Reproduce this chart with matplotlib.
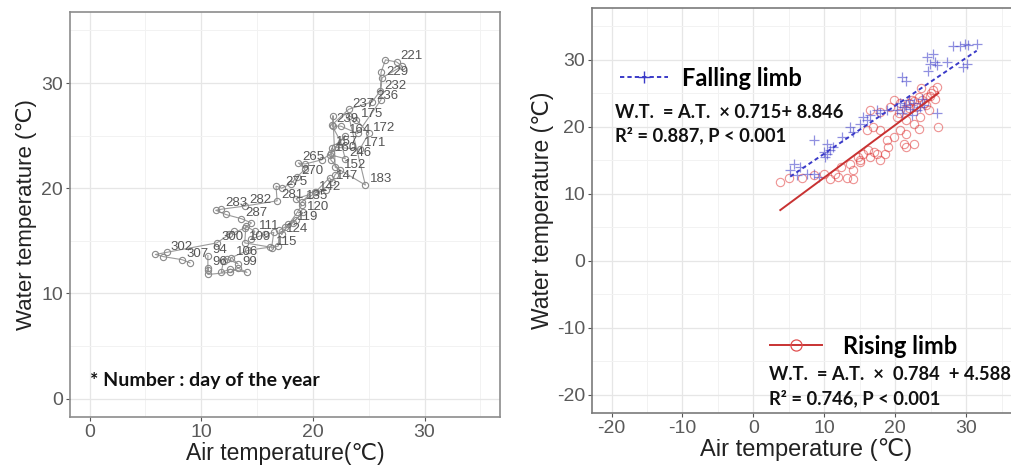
import numpy as np
import matplotlib
matplotlib.use('Agg')
import matplotlib.pyplot as plt
from matplotlib.lines import Line2D

plt.rcParams['font.family'] = ['Liberation Sans', 'DejaVu Sans']
plt.rcParams['axes.unicode_minus'] = False

# 왼쪽: 일별 경로 (day of year, 기온, 수온)
days = [94, 95, 96, 97, 98, 99, 100, 101, 102, 103, 104, 105, 106, 107, 108, 109, 110, 111,
        112, 113, 114, 115, 116, 117, 118, 119, 120, 121, 122, 124, 126, 128, 130, 133, 135,
        138, 140, 142, 145, 147, 150, 152, 155, 157, 160, 164, 167, 171, 172, 175, 179, 183,
        185, 190, 195, 200, 205, 210, 215, 218, 221, 225, 229, 232, 236, 237, 239, 243, 246,
        250, 255, 260, 265, 268, 270, 273, 275, 278, 281, 282, 283, 285, 286, 287, 290, 293,
        296, 298, 300, 302, 304, 305, 307, 309]
air = [10.6, 10.6, 10.6, 10.6, 12.6, 13.3, 14.1, 12.6, 11.8, 12.0, 12.3, 13.3, 12.7, 14.2,
       16.2, 13.9, 14.0, 14.8, 14.5, 15.7, 16.5, 16.3, 16.9, 17.0, 17.5, 18.2, 19.1, 18.5,
       17.8, 17.2, 18.6, 19.0, 18.5, 19.7, 19.0, 20.3, 21.2, 20.2, 21.5, 21.7, 22.0, 22.4,
       21.6, 21.7, 21.6, 22.9, 22.0, 24.2, 25.0, 23.9, 23.2, 24.7, 22.0, 21.8, 21.8, 22.5,
       24.0, 26.1, 26.1, 26.5, 27.5, 28.0, 26.2, 26.0, 25.3, 23.2, 21.7, 22.5, 22.9, 21.5,
       20.8, 19.3, 18.7, 19.3, 18.6, 18.0, 17.2, 16.7, 16.8, 13.9, 11.8, 11.3, 12.2, 13.6,
       14.5, 13.9, 12.5, 12.9, 11.4, 6.9, 5.9, 6.6, 8.3, 9.0]
water = [13.6, 12.2, 12.4, 11.8, 12.0, 12.4, 12.0, 12.3, 12.0, 13.1, 13.3, 12.8, 13.4, 14.1,
         14.4, 14.8, 16.4, 15.9, 15.2, 15.6, 15.8, 14.3, 14.5, 16.0, 16.3, 16.7, 17.7, 17.0,
         16.6, 15.6, 17.7, 18.4, 19.0, 19.4, 18.7, 19.6, 19.8, 19.6, 21.0, 20.6, 21.3, 21.7,
         22.7, 23.8, 23.3, 25.0, 23.9, 23.7, 25.2, 26.5, 26.9, 20.3, 22.0, 26.9, 25.9, 25.9,
         25.2, 28.4, 31.0, 32.2, 32.0, 31.6, 30.5, 29.2, 28.2, 27.5, 26.0, 24.4, 22.8, 23.2,
         22.7, 22.3, 22.4, 21.8, 21.1, 20.4, 20.0, 20.2, 18.8, 18.3, 18.0, 17.9, 17.5, 17.1,
         16.7, 16.2, 15.6, 15.9, 14.8, 13.9, 13.7, 13.5, 13.2, 12.9]
labeled_days = [94, 96, 99, 106, 109, 111, 115, 119, 120, 124, 135, 142, 147, 152, 157, 160,
                164, 171, 172, 175, 183, 221, 229, 232, 236, 237, 239, 246, 265, 270, 275, 281,
                282, 283, 287, 300, 302, 307]

# 오른쪽: 상승기(rising) / 하강기(falling)
rise_air = [3.8, 5.0, 6.9, 8.5, 9.9, 10.8, 12.0, 13.2, 14.1, 12.3, 13.7, 14.1, 15.1, 15.5,
            16.5, 17.4, 17.9, 16.0, 16.9, 17.9, 16.5, 17.9, 19.3, 19.8, 20.7, 19.8, 20.7,
            21.6, 21.2, 21.6, 22.6, 20.2, 21.6, 22.6, 23.5, 23.3, 26.1, 24.0, 24.5, 25.0,
            24.8, 21.5, 22.0, 22.4, 22.9, 23.3, 23.8, 24.3, 24.9, 25.4, 21.9, 22.7, 23.6,
            18.5, 19.0, 16.2, 15.0, 18.8, 25.6, 25.9, 20.5, 17.0, 14.7, 11.5]
rise_wt = [11.8, 12.3, 12.3, 12.8, 13.0, 12.2, 12.5, 12.3, 12.2, 14.0, 14.5, 13.5, 15.0, 16.0,
           15.5, 16.0, 15.0, 19.5, 20.0, 19.5, 22.5, 22.2, 23.0, 24.0, 23.5, 18.5, 19.5,
           19.0, 17.5, 17.0, 17.5, 21.5, 21.0, 20.5, 21.5, 19.7, 20.0, 23.5, 24.5, 25.0,
           22.5, 22.5, 23.5, 24.0, 23.0, 24.5, 24.0, 23.2, 24.6, 25.5, 22.8, 23.8, 25.8,
           16.0, 17.0, 16.5, 14.8, 18.0, 24.2, 26.0, 22.0, 16.2, 15.5, 13.0]
fall_air = [5.2, 5.7, 6.6, 6.2, 7.6, 8.5, 9.2, 8.5, 9.9, 10.4, 10.8, 10.1, 11.3, 10.4, 12.5,
            13.7, 14.1, 15.1, 15.5, 16.0, 16.5, 17.4, 17.9, 18.8, 20.2, 20.7, 21.2, 21.6,
            22.1, 22.6, 23.1, 23.5, 24.0, 20.9, 21.6, 24.5, 25.4, 24.9, 25.6, 24.7, 25.9,
            27.3, 28.2, 29.2, 29.9, 30.3, 31.5, 29.6, 30.1, 25.9, 21.0, 21.9, 22.4, 23.8]
fall_wt = [13.5, 14.5, 14.0, 12.8, 13.0, 13.0, 12.5, 18.0, 16.3, 16.0, 16.5, 15.5, 17.0, 17.5,
           18.5, 20.0, 19.2, 20.5, 21.5, 21.0, 21.7, 22.5, 22.0, 22.5, 22.5, 23.5, 23.0,
           23.2, 22.7, 23.5, 22.5, 23.0, 23.2, 27.4, 26.9, 30.4, 30.9, 29.4, 29.7, 28.4,
           29.2, 29.7, 32.1, 32.1, 32.4, 32.3, 32.4, 28.9, 29.4, 22.0, 22.0, 24.0, 21.8, 24.2]
rise_coef = [0.784, 4.588]
fall_coef = [0.715, 8.846]

bold_font = {'family': ['Lato', 'DejaVu Sans'], 'weight': 'bold'}
tick_color = '#5a5a5a'

fig = plt.figure(figsize=(10.11, 4.67), dpi=100)
ax1 = fig.add_axes([0.0692, 0.1071, 0.4253, 0.8672])
ax2 = fig.add_axes([0.5856, 0.1156, 0.4243, 0.8672])


def style_axes(ax, ticks, lim, border):
    ax.set_xticks(ticks)
    ax.set_yticks(ticks)
    minor = [t + 5 for t in ticks]
    ax.set_xticks(minor, minor=True)
    ax.set_yticks(minor, minor=True)
    ax.set_xlim(lim)
    ax.set_ylim(lim)
    ax.grid(True, which='major', color='#e6e6e6', linewidth=0.9)
    ax.grid(True, which='minor', color='#f2f2f2', linewidth=0.7)
    ax.set_axisbelow(True)
    ax.tick_params(which='major', length=3, width=0.8, color='#555555',
                   labelsize=14, labelcolor=tick_color, pad=2)
    ax.tick_params(which='minor', length=0)
    for s in ax.spines.values():
        s.set_color(border)
        s.set_linewidth(1.2)


# ----- 왼쪽 그래프 -----
style_axes(ax1, [0, 10, 20, 30], (-1.75, 36.75), '#8c8c8c')
ax1.plot(air, water, color='#9a9a9a', linewidth=0.8, marker='o', markersize=4.5,
         markerfacecolor='none', markeredgecolor='#8a8a8a', markeredgewidth=0.8)
for d, x, y in zip(days, air, water):
    if d in labeled_days:
        ax1.annotate(str(d), (x, y), xytext=(3, 2), textcoords='offset points',
                     fontsize=9.5, color='#555555', ha='left', va='baseline')
ax1.text(0, 1.7, '* Number : day of the year', fontdict=bold_font, fontsize=14,
         ha='left', va='center', color='#111111')
ax1.set_xlabel('Air temperature(℃)', fontsize=16.5, color='#222222', labelpad=1)
ax1.set_ylabel('Water temperature (℃)', fontsize=16, color='#222222', labelpad=3)

# ----- 오른쪽 그래프 -----
style_axes(ax2, [-20, -10, 0, 10, 20, 30], (-22.75, 37.75), '#7a7a7a')
red = '#e03a3a'
blue = '#4646cc'
ax2.plot(rise_air, rise_wt, linestyle='none', marker='o', markersize=6,
         markerfacecolor='none', markeredgecolor=red, markeredgewidth=0.8, alpha=0.55)
ax2.plot(fall_air, fall_wt, linestyle='none', marker='+', markersize=7.5,
         color=blue, markeredgewidth=0.9, alpha=0.6)

xr = np.linspace(min(rise_air), max(rise_air), 50)
ax2.plot(xr, rise_coef[0] * xr + rise_coef[1], color='#c83232', linewidth=1.4)
xf = np.linspace(min(fall_air), max(fall_air), 50)
ax2.plot(xf, fall_coef[0] * xf + fall_coef[1], color='#3a3ac8', linewidth=1.4,
         linestyle=(0, (2.2, 1.6)))

legend_font = {'family': ['Lato', 'DejaVu Sans'], 'weight': 'bold', 'size': 17}
h_fall = Line2D([], [], color='#3a3ac8', linestyle=(0, (2.2, 1.6)), linewidth=1.4,
                marker='+', markersize=9, markeredgewidth=1.0)
h_rise = Line2D([], [], color='#c83232', linewidth=1.4, marker='o', markersize=8,
                markerfacecolor='none', markeredgecolor='#e05050', markeredgewidth=0.9)
leg1 = ax2.legend([h_fall], ['Falling limb'], loc='center left', bbox_to_anchor=(0.065, 0.827),
                  frameon=False, borderpad=0, borderaxespad=0, handlelength=2.05,
                  handletextpad=0.6, numpoints=1, prop=legend_font)
ax2.add_artist(leg1)
ax2.legend([h_rise], ['Rising limb'], loc='center left', bbox_to_anchor=(0.415, 0.165),
           frameon=False, borderpad=0, borderaxespad=0, handlelength=2.2,
           handletextpad=0.9, numpoints=1, prop=legend_font)

eq_size = 13.2
ax2.text(0.054, 0.741, 'W.T.  = A.T.  × 0.715+ 8.846', transform=ax2.transAxes,
         fontdict=bold_font, fontsize=eq_size, ha='left', va='center', color='#111111')
ax2.text(0.054, 0.686, 'R² = 0.887, P < 0.001', transform=ax2.transAxes,
         fontdict=bold_font, fontsize=eq_size, ha='left', va='center', color='#111111')
ax2.text(0.413, 0.094, 'W.T.  = A.T.  ×  0.784  + 4.588', transform=ax2.transAxes,
         fontdict=bold_font, fontsize=eq_size, ha='left', va='center', color='#111111')
ax2.text(0.413, 0.037, 'R² = 0.746, P < 0.001', transform=ax2.transAxes,
         fontdict=bold_font, fontsize=eq_size, ha='left', va='center', color='#111111')

ax2.set_xlabel('Air temperature (℃)', fontsize=17, color='#222222', labelpad=1)
ax2.set_ylabel('Water temperature (℃)', fontsize=16.5, color='#222222', labelpad=2)

fig.savefig('out.png', dpi=100)
